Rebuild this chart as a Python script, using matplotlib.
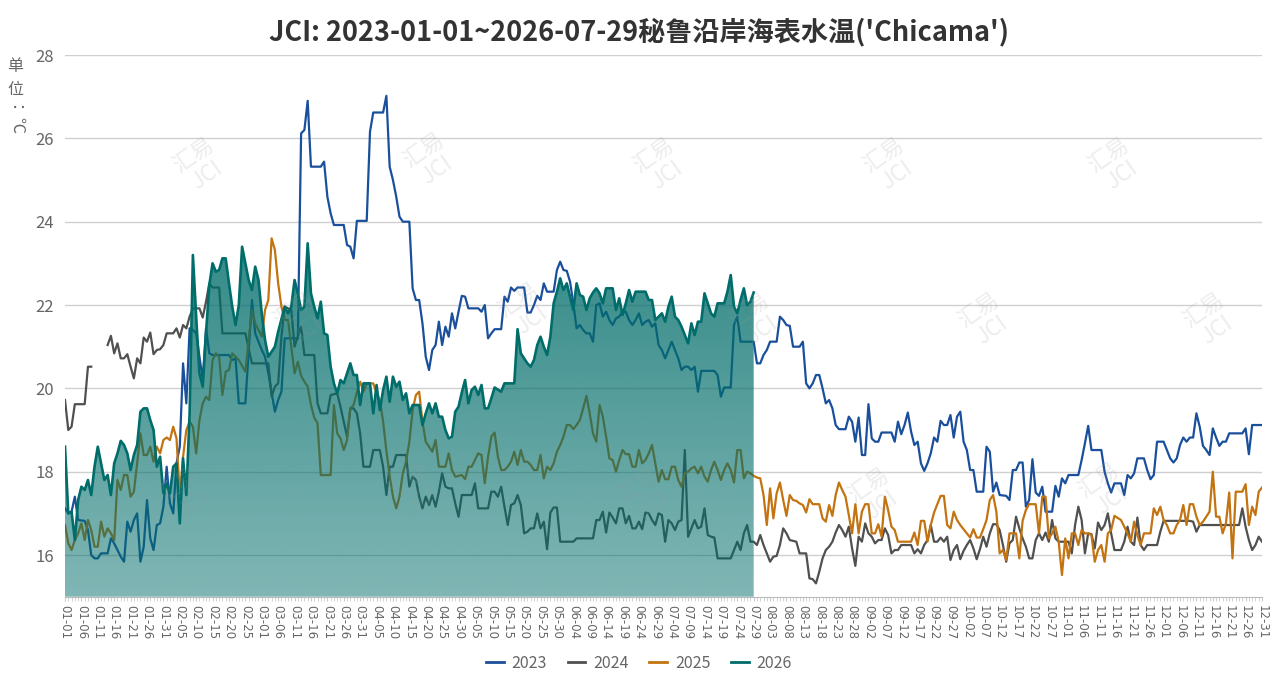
import matplotlib
matplotlib.use("Agg")
import matplotlib.pyplot as plt
import numpy as np
import pandas as pd
from matplotlib.colors import to_rgb
from matplotlib.lines import Line2D
from matplotlib.patches import Polygon
from matplotlib.ticker import MultipleLocator

plt.rcParams["font.family"] = ["Noto Sans CJK SC", "DejaVu Sans"]

TITLE = "JCI: 2023-01-01~2026-07-29秘鲁沿岸海表水温('Chicama')"
categories = pd.date_range("2024-01-01", "2024-12-31").strftime("%m-%d").tolist()

# (day index in categories, sea surface temperature ℃); None = missing
pts_2023 = [
    (0, 17.12), (1, 17.0), (2, 17.04), (3, 17.4), (4, 16.84), (6, 16.82), (7, 16.6), (8, 16.0),
    (9, 15.92), (10, 15.92), (11, 16.04), (13, 16.04), (14, 16.4), (15, 16.28), (16, 16.12),
    (17, 15.96), (18, 15.84), (19, 16.8), (20, 16.56), (21, 16.84), (22, 17.0), (23, 15.84),
    (24, 16.2), (25, 17.32), (26, 16.4), (27, 16.12), (28, 16.72), (29, 16.76), (30, 17.16),
    (31, 18.12), (32, 17.24), (33, 17.0), (34, 18.2), (35, 18.6), (36, 20.6), (37, 19.64),
    (38, 21.44), (39, 21.4), (40, 21.32), (41, 20.76), (42, 20.2), (43, 21.44), (44, 20.84),
    (45, 20.8), (50, 20.8), (51, 20.68), (52, 20.72), (53, 19.64), (55, 19.64), (57, 22.12),
    (58, 21.32), (60, 20.92), (61, 20.76), (62, 20.36), (64, 19.44), (65, 19.72), (66, 19.92),
    (67, 21.2), (71, 21.2), (72, 26.12), (73, 26.2), (74, 26.9), (75, 25.32), (78, 25.32),
    (79, 25.44), (80, 24.6), (81, 24.2), (82, 23.92), (85, 23.92), (86, 23.44), (87, 23.4),
    (88, 23.12), (89, 24.02), (92, 24.02), (93, 26.16), (94, 26.62), (97, 26.62), (98, 27.02),
    (99, 25.32), (100, 25.0), (101, 24.6), (102, 24.12), (103, 24.0), (105, 24.0), (106, 22.4),
    (107, 22.12), (108, 22.12), (109, 21.56), (110, 20.76), (111, 20.44), (112, 20.92),
    (113, 21.04), (114, 21.6), (115, 21.04), (116, 21.48), (117, 21.24), (118, 21.8),
    (119, 21.44), (120, 21.84), (121, 22.22), (122, 22.2), (123, 21.92), (126, 21.92),
    (127, 21.84), (128, 22.0), (129, 21.2), (130, 21.32), (131, 21.42), (133, 21.42),
    (134, 22.2), (135, 22.08), (136, 22.42), (137, 22.34), (138, 22.42), (140, 22.42),
    (141, 21.82), (142, 21.82), (143, 22.0), (144, 22.22), (145, 22.12), (146, 22.52),
    (147, 22.32), (149, 22.32), (150, 22.84), (151, 23.04), (152, 22.84), (153, 22.82),
    (154, 22.56), (155, 22.04), (156, 21.44), (157, 21.52), (158, 21.4), (159, 21.32),
    (160, 21.32), (161, 21.12), (162, 22.0), (163, 22.04), (164, 21.72), (165, 21.84),
    (166, 21.64), (167, 21.52), (168, 21.68), (169, 21.72), (170, 21.84), (171, 21.84),
    (172, 21.64), (173, 21.52), (174, 21.64), (175, 21.8), (176, 21.52), (177, 21.6),
    (178, 21.64), (179, 21.48), (180, 21.56), (181, 21.04), (182, 20.92), (183, 20.72),
    (184, 20.92), (185, 21.12), (186, 20.92), (187, 20.72), (188, 20.44), (189, 20.52),
    (190, 20.52), (191, 20.44), (192, 20.52), (193, 19.92), (194, 20.42), (198, 20.42),
    (199, 20.32), (200, 19.8), (201, 20.02), (203, 20.02), (204, 21.52), (205, 21.72),
    (206, 21.12), (210, 21.12), (211, 20.6), (212, 20.6), (213, 20.8), (214, 20.92),
    (215, 21.12), (217, 21.12), (218, 21.72), (219, 21.64), (220, 21.52), (221, 21.5),
    (222, 21.0), (224, 21.0), (225, 21.12), (226, 20.12), (227, 20.0), (228, 20.12),
    (229, 20.32), (230, 20.32), (231, 20.0), (232, 19.64), (233, 19.72), (234, 19.52),
    (235, 19.12), (236, 19.02), (238, 19.02), (239, 19.32), (240, 19.2), (241, 18.72),
    (242, 19.3), (243, 18.4), (244, 18.4), (245, 19.62), (246, 18.8), (247, 18.72),
    (248, 18.72), (249, 18.94), (252, 18.94), (253, 18.72), (254, 19.2), (255, 18.9),
    (256, 19.12), (257, 19.42), (258, 18.96), (259, 18.64), (260, 18.72), (261, 18.2),
    (262, 18.02), (263, 18.2), (264, 18.44), (265, 18.82), (266, 18.72), (267, 19.22),
    (268, 19.12), (269, 19.12), (270, 19.36), (271, 18.82), (272, 19.32), (273, 19.44),
    (274, 18.72), (275, 18.52), (276, 18.04), (277, 18.04), (278, 17.52), (280, 17.52),
    (281, 18.6), (282, 18.48), (283, 17.52), (284, 17.74), (285, 17.44), (287, 17.42),
    (288, 17.32), (289, 18.04), (290, 18.04), (291, 18.22), (292, 18.22), (293, 17.16),
    (294, 17.32), (295, 18.3), (296, 17.5), (297, 17.42), (298, 17.64), (299, 17.04),
    (301, 17.04), (302, 17.66), (303, 17.4), (304, 17.84), (305, 17.72), (306, 17.92),
    (309, 17.92), (310, 18.28), (311, 18.68), (312, 19.1), (313, 18.52), (316, 18.52),
    (317, 18.0), (318, 17.72), (319, 17.5), (320, 17.72), (322, 17.72), (323, 17.44),
    (324, 17.92), (325, 17.84), (326, 17.96), (327, 18.32), (329, 18.32), (330, 18.04),
    (331, 17.82), (332, 17.92), (333, 18.72), (335, 18.72), (336, 18.52), (337, 18.32),
    (338, 18.22), (339, 18.32), (340, 18.64), (341, 18.82), (342, 18.72), (343, 18.82),
    (344, 18.82), (345, 19.4), (346, 19.08), (347, 18.62), (348, 18.52), (349, 18.4),
    (350, 19.04), (351, 18.82), (352, 18.62), (353, 18.72), (354, 18.72), (355, 18.92),
    (359, 18.92), (360, 19.04), (361, 18.42), (362, 19.12), (365, 19.12),
]

pts_2024 = [
    (0, 19.72), (1, 19.0), (2, 19.08), (3, 19.62), (6, 19.62), (7, 20.52), (8, 20.52), (10, None),
    (13, 21.04), (14, 21.26), (15, 20.84), (16, 21.08), (17, 20.72), (18, 20.72), (19, 20.82),
    (20, 20.52), (21, 20.24), (22, 20.72), (23, 20.6), (24, 21.22), (25, 21.12), (26, 21.34),
    (27, 20.82), (28, 20.92), (29, 20.94), (30, 21.04), (31, 21.32), (33, 21.32), (34, 21.44),
    (35, 21.22), (36, 21.52), (37, 21.44), (38, 21.72), (39, 21.92), (41, 21.92), (42, 21.7),
    (43, 22.08), (44, 22.52), (45, 22.42), (47, 22.42), (48, 21.32), (55, 21.32), (57, 20.6),
    (58, 20.6), (62, 20.6), (63, 19.8), (64, 20.04), (65, 20.12), (66, 21.24), (67, 21.96),
    (69, 21.88), (70, 21.0), (72, 21.48), (73, 20.8), (76, 20.8), (77, 19.64), (78, 19.4),
    (80, 19.4), (81, 19.84), (83, 19.88), (84, 19.56), (86, 18.84), (87, 19.52), (88, 19.52),
    (89, 19.4), (90, 18.92), (91, 18.12), (93, 18.12), (94, 18.52), (96, 18.52), (97, 18.12),
    (98, 17.44), (99, 18.12), (100, 18.12), (101, 18.4), (104, 18.4), (105, 17.64),
    (106, 17.88), (107, 17.8), (108, 17.4), (109, 17.12), (110, 17.4), (111, 17.2),
    (112, 17.44), (113, 17.16), (114, 17.52), (115, 17.96), (116, 17.64), (117, 17.6),
    (118, 17.6), (119, 17.24), (120, 16.92), (121, 17.44), (124, 17.44), (125, 17.72),
    (126, 17.12), (129, 17.12), (130, 17.52), (131, 17.52), (132, 17.4), (133, 17.64),
    (134, 17.16), (135, 16.72), (136, 17.2), (137, 17.24), (138, 17.44), (139, 17.2),
    (140, 16.52), (141, 16.56), (142, 16.64), (143, 16.64), (144, 17.0), (145, 16.64),
    (146, 16.8), (147, 16.14), (148, 17.02), (149, 17.14), (150, 17.14), (151, 16.32),
    (155, 16.32), (156, 16.4), (161, 16.4), (162, 16.84), (163, 16.84), (164, 17.04),
    (165, 16.54), (166, 17.02), (167, 16.9), (168, 16.76), (169, 17.12), (170, 17.12),
    (171, 16.76), (172, 16.94), (173, 16.64), (174, 16.64), (175, 16.8), (176, 16.62),
    (177, 17.02), (178, 17.0), (179, 16.84), (180, 16.72), (181, 17.0), (182, 16.96),
    (183, 16.32), (184, 16.84), (185, 16.76), (186, 16.6), (187, 16.8), (188, 16.84),
    (189, 18.52), (190, 16.44), (191, 16.64), (192, 16.84), (193, 16.64), (194, 16.68),
    (195, 17.12), (196, 16.48), (197, 16.44), (198, 16.42), (199, 15.92), (203, 15.92),
    (204, 16.12), (205, 16.32), (206, 16.12), (207, 16.52), (208, 16.72), (209, 16.32),
    (210, 16.32), (211, 16.24), (212, 16.48), (213, 16.24), (214, 16.04), (215, 15.84),
    (216, 15.96), (217, 15.98), (218, 16.24), (219, 16.64), (220, 16.52), (221, 16.36),
    (223, 16.32), (224, 16.04), (226, 16.04), (227, 15.44), (228, 15.42), (229, 15.32),
    (230, 15.6), (231, 15.92), (232, 16.12), (233, 16.2), (234, 16.32), (235, 16.54),
    (236, 16.72), (237, 16.6), (238, 16.44), (239, 16.68), (240, 16.16), (241, 15.74),
    (242, 16.44), (243, 16.32), (244, 16.76), (245, 16.52), (246, 16.44), (247, 16.28),
    (248, 16.36), (249, 16.36), (250, 16.64), (251, 16.48), (252, 16.04), (253, 16.12),
    (254, 16.12), (255, 16.24), (258, 16.24), (259, 16.04), (260, 16.14), (261, 16.04),
    (262, 16.24), (263, 16.36), (264, 16.72), (265, 16.32), (266, 16.32), (267, 16.42),
    (268, 16.32), (269, 16.44), (270, 15.88), (271, 16.12), (272, 16.24), (273, 15.9),
    (274, 16.1), (275, 16.24), (276, 16.36), (277, 16.16), (278, 15.9), (279, 16.14),
    (280, 16.44), (281, 16.2), (282, 16.52), (283, 16.74), (284, 16.74), (285, 16.6),
    (286, 16.24), (287, 15.84), (288, 16.28), (289, 16.36), (290, 16.92), (291, 16.64),
    (292, 16.4), (293, 16.2), (294, 15.92), (295, 15.92), (296, 16.36), (297, 16.52),
    (298, 16.36), (299, 16.54), (300, 16.32), (301, 16.84), (302, 16.4), (303, 16.32),
    (306, 16.32), (307, 16.04), (308, 16.72), (309, 17.16), (310, 16.84), (311, 16.04),
    (312, 16.52), (313, 16.5), (314, 16.16), (315, 16.78), (316, 16.6), (317, 16.72),
    (318, 17.0), (319, 16.52), (320, 16.12), (322, 16.12), (323, 16.32), (324, 16.68),
    (325, 16.32), (326, 16.24), (327, 16.9), (328, 16.24), (329, 16.12), (330, 16.24),
    (333, 16.24), (334, 16.56), (335, 16.82), (343, 16.82), (344, 16.8), (345, 16.56),
    (346, 16.72), (358, 16.72), (359, 17.12), (360, 16.68), (361, 16.36), (362, 16.12),
    (363, 16.24), (364, 16.44), (365, 16.32),
]

pts_2025 = [
    (0, 16.72), (1, 16.28), (2, 16.12), (3, 16.36), (4, 16.52), (5, 16.76), (6, 16.36), (7, 16.84),
    (8, 16.6), (9, 16.2), (10, 16.2), (11, 16.8), (12, 16.44), (13, 16.64), (14, 16.52),
    (15, 16.36), (16, 17.8), (17, 17.56), (18, 17.92), (19, 17.92), (20, 17.4), (21, 17.52),
    (22, 18.2), (23, 18.92), (24, 18.4), (25, 18.4), (26, 18.6), (27, 18.24), (28, 18.6),
    (29, 18.44), (30, 18.76), (31, 18.82), (32, 18.76), (33, 19.08), (34, 18.8), (35, 17.44),
    (36, 18.36), (37, 19.0), (38, 19.2), (39, 19.08), (40, 18.44), (41, 19.24), (42, 19.64),
    (43, 19.8), (44, 19.72), (45, 20.68), (46, 20.84), (47, 20.76), (48, 19.84), (49, 20.4),
    (50, 20.44), (51, 20.84), (52, 20.76), (53, 20.68), (55, 20.4), (56, 21.16), (57, 21.88),
    (58, 21.56), (59, 21.4), (60, 21.24), (61, 21.88), (62, 22.12), (63, 23.6), (64, 23.32),
    (65, 22.52), (66, 21.96), (67, 21.64), (68, 21.64), (70, 20.36), (71, 20.64), (72, 20.3),
    (73, 20.16), (74, 20.04), (75, 19.6), (76, 19.3), (77, 19.16), (78, 17.92), (81, 17.92),
    (82, 19.6), (83, 18.92), (84, 18.8), (85, 18.52), (86, 18.76), (87, 19.52), (88, 19.6),
    (89, 19.9), (90, 20.16), (91, 19.92), (92, 20.12), (94, 20.12), (95, 19.88), (96, 19.72),
    (97, 19.2), (98, 18.5), (99, 17.9), (100, 17.4), (101, 17.12), (102, 17.4), (103, 17.96),
    (104, 18.24), (105, 18.72), (106, 19.48), (107, 19.84), (108, 19.92), (109, 19.2),
    (110, 18.72), (111, 18.6), (112, 18.48), (113, 18.76), (114, 18.12), (116, 18.12),
    (117, 18.44), (118, 18.04), (119, 17.88), (121, 17.92), (122, 17.82), (123, 18.12),
    (124, 18.12), (125, 18.28), (126, 18.44), (127, 18.4), (128, 17.72), (129, 18.36),
    (130, 18.84), (131, 18.94), (132, 18.36), (133, 18.04), (134, 18.04), (135, 18.12),
    (136, 18.24), (137, 18.48), (138, 18.16), (139, 18.52), (140, 18.24), (141, 18.24),
    (142, 18.16), (143, 18.04), (144, 18.04), (145, 18.4), (146, 17.84), (147, 18.12),
    (148, 18.04), (149, 18.2), (150, 18.48), (151, 18.64), (152, 18.84), (153, 19.12),
    (154, 19.12), (155, 19.02), (156, 19.12), (157, 19.24), (158, 19.52), (159, 19.82),
    (160, 19.4), (161, 18.92), (162, 18.72), (163, 19.6), (164, 19.32), (165, 18.84),
    (166, 18.32), (167, 18.28), (168, 18.0), (169, 18.28), (170, 18.52), (171, 18.42),
    (172, 18.42), (173, 18.12), (174, 18.12), (175, 18.52), (176, 18.2), (177, 18.28),
    (178, 18.44), (179, 18.64), (180, 18.2), (181, 17.76), (182, 18.04), (183, 17.82),
    (184, 17.82), (185, 18.12), (186, 18.12), (187, 17.8), (188, 17.64), (189, 17.96),
    (190, 18.0), (191, 18.08), (192, 18.12), (193, 17.96), (194, 18.12), (195, 17.88),
    (196, 17.76), (197, 18.04), (198, 18.24), (199, 18.04), (200, 17.8), (201, 18.04),
    (202, 18.2), (203, 18.04), (204, 17.74), (205, 18.52), (206, 18.52), (207, 17.84),
    (208, 18.0), (209, 17.96), (210, 17.9), (211, 17.86), (212, 17.84), (213, 17.44),
    (214, 16.72), (215, 17.6), (216, 16.88), (217, 17.48), (218, 17.74), (219, 17.32),
    (220, 16.94), (221, 17.44), (222, 17.32), (223, 17.3), (224, 17.24), (225, 17.2),
    (226, 17.02), (227, 17.34), (228, 17.22), (230, 17.22), (231, 16.88), (232, 16.8),
    (233, 17.2), (234, 16.94), (235, 17.44), (236, 17.74), (237, 17.56), (238, 17.4),
    (240, 16.52), (241, 17.22), (242, 16.52), (243, 17.04), (244, 17.22), (245, 17.22),
    (246, 16.52), (247, 16.52), (248, 16.74), (249, 16.44), (250, 17.4), (251, 17.08),
    (252, 16.68), (253, 16.6), (254, 16.32), (258, 16.32), (259, 16.54), (260, 16.24),
    (261, 16.82), (262, 16.82), (263, 16.32), (264, 16.72), (265, 17.02), (266, 17.22),
    (267, 17.42), (268, 17.42), (269, 16.72), (270, 16.64), (271, 17.04), (272, 16.84),
    (273, 16.72), (274, 16.62), (275, 16.52), (276, 16.42), (277, 16.62), (278, 16.42),
    (279, 16.42), (280, 16.62), (281, 16.84), (282, 17.32), (283, 17.44), (284, 17.04),
    (285, 16.04), (286, 16.12), (287, 15.88), (288, 16.52), (290, 16.52), (291, 15.92),
    (292, 16.82), (293, 17.08), (294, 17.22), (296, 17.22), (297, 16.52), (298, 17.4),
    (299, 17.4), (300, 16.4), (301, 16.52), (302, 16.68), (303, 16.32), (304, 15.52),
    (305, 16.4), (306, 15.92), (307, 16.52), (308, 16.52), (309, 16.24), (310, 16.6),
    (311, 16.52), (312, 16.52), (313, 16.48), (314, 15.84), (315, 16.12), (316, 16.24),
    (317, 15.84), (318, 16.52), (319, 16.6), (320, 16.94), (322, 16.84), (323, 16.68),
    (324, 16.52), (325, 16.32), (326, 16.8), (327, 16.48), (328, 16.24), (329, 16.52),
    (331, 16.52), (332, 17.12), (333, 16.96), (334, 17.16), (335, 16.84), (336, 16.72),
    (337, 16.52), (338, 16.52), (339, 16.72), (340, 16.84), (341, 17.2), (342, 16.72),
    (343, 17.22), (344, 17.22), (345, 16.92), (346, 16.72), (347, 16.8), (348, 16.92),
    (349, 17.04), (350, 18.0), (351, 16.92), (352, 16.92), (353, 16.52), (354, 16.76),
    (355, 17.5), (356, 15.92), (357, 17.52), (359, 17.52), (360, 17.7), (361, 16.72),
    (362, 17.16), (363, 16.96), (364, 17.52), (365, 17.62),
]

pts_2026 = [
    (0, 18.6), (1, 17.0), (2, 17.04), (3, 16.36), (4, 17.32), (5, 17.64), (6, 17.56), (7, 17.8),
    (8, 17.44), (9, 18.12), (10, 18.6), (11, 18.2), (12, 17.8), (13, 17.92), (14, 17.44),
    (15, 18.2), (16, 18.44), (17, 18.74), (18, 18.64), (19, 18.44), (20, 18.04), (21, 18.4),
    (22, 18.64), (23, 19.44), (24, 19.52), (25, 19.52), (26, 19.24), (27, 19.0), (28, 18.12),
    (29, 18.36), (30, 17.48), (31, 17.72), (32, 17.48), (33, 18.12), (34, 18.2), (35, 16.76),
    (36, 18.32), (37, 17.44), (38, 19.4), (39, 23.2), (40, 21.72), (41, 20.36), (42, 20.04),
    (43, 21.32), (44, 22.48), (45, 23.0), (46, 22.8), (47, 22.84), (48, 23.12), (49, 23.12),
    (50, 22.52), (51, 21.96), (52, 21.52), (53, 22.0), (54, 23.4), (55, 23.0), (56, 22.6),
    (57, 22.36), (58, 22.92), (59, 22.6), (60, 21.8), (61, 21.16), (62, 20.76), (64, 21.0),
    (65, 21.36), (67, 21.96), (68, 21.8), (69, 21.96), (70, 22.6), (71, 22.28), (72, 21.88),
    (73, 21.96), (74, 23.48), (75, 22.28), (76, 21.96), (77, 21.68), (78, 22.08), (79, 21.32),
    (80, 21.28), (81, 20.52), (82, 20.12), (83, 19.88), (84, 20.2), (85, 20.12), (86, 20.36),
    (87, 20.6), (88, 20.32), (89, 20.32), (90, 19.6), (91, 20.12), (93, 20.12), (94, 19.4),
    (95, 20.08), (96, 19.48), (97, 19.96), (98, 20.28), (99, 19.68), (100, 20.28), (101, 20.04),
    (102, 20.16), (103, 19.72), (104, 19.88), (105, 19.4), (106, 19.6), (108, 19.6),
    (109, 19.12), (110, 19.4), (111, 19.64), (112, 19.4), (113, 19.64), (114, 19.32),
    (115, 19.32), (116, 19.0), (117, 18.8), (118, 18.84), (119, 19.44), (120, 19.56),
    (121, 19.9), (122, 20.2), (123, 19.64), (124, 19.96), (125, 20.04), (126, 19.84),
    (127, 20.08), (128, 19.52), (129, 19.52), (130, 19.76), (131, 20.02), (133, 19.92),
    (134, 20.12), (137, 20.12), (138, 21.42), (139, 20.84), (140, 20.72), (141, 20.6),
    (142, 20.52), (143, 20.68), (144, 21.04), (145, 21.24), (146, 21.0), (147, 20.8),
    (148, 21.24), (149, 22.04), (150, 22.32), (151, 22.64), (152, 22.36), (153, 22.52),
    (154, 22.2), (155, 21.88), (156, 22.52), (157, 22.24), (158, 22.2), (159, 21.88),
    (160, 22.16), (161, 22.3), (162, 22.4), (163, 22.28), (164, 22.04), (165, 22.4),
    (167, 22.4), (168, 21.88), (169, 22.16), (170, 21.76), (171, 22.04), (172, 22.36),
    (173, 22.08), (174, 22.32), (177, 22.32), (178, 22.12), (179, 22.12), (180, 21.64),
    (181, 21.72), (182, 21.8), (183, 21.6), (184, 21.96), (185, 22.2), (186, 21.72),
    (187, 21.64), (188, 21.48), (189, 21.28), (190, 21.08), (191, 21.56), (192, 21.28),
    (193, 21.6), (194, 21.6), (195, 22.28), (196, 22.04), (197, 21.8), (198, 21.72),
    (199, 22.04), (201, 22.04), (202, 22.32), (203, 22.72), (204, 21.96), (205, 21.8),
    (206, 22.12), (207, 22.4), (208, 22.0), (209, 22.08), (210, 22.3),
]

series = ["2023", "2024", "2025", "2026"]
colors = ["#1a4f9c", "#505050", "#c3730f", "#006d6a"]


def unzip(pts):
    x = np.array([p[0] for p in pts], dtype=float)
    y = np.array([np.nan if p[1] is None else p[1] for p in pts], dtype=float)
    return x, y


fig = plt.figure(figsize=(12.78, 6.89), dpi=100)
ax = fig.add_axes([65 / 1278, 1 - 596.7 / 689, (1262 - 65) / 1278, (596.7 - 55) / 689])

for pts, col in zip([pts_2023, pts_2024, pts_2025], colors[:3]):
    x, y = unzip(pts)
    ax.plot(x, y, color=col, lw=1.6, zorder=2, solid_joinstyle="round")

# 2026: gradient-filled area drawn over the other years
x26, y26 = unzip(pts_2026)
verts = [(x26[0], 15)] + list(zip(x26, y26)) + [(x26[-1], 15)]
poly = Polygon(verts, closed=True, facecolor="none", edgecolor="none")
ax.add_patch(poly)
grad = np.zeros((256, 1, 4))
grad[:, 0, :3] = to_rgb(colors[3])
grad[:, 0, 3] = np.linspace(0.5, 0.8, 256)
im = ax.imshow(grad, extent=[x26[0], x26[-1], 15, y26.max()], origin="lower",
               aspect="auto", zorder=3, interpolation="bilinear")
im.set_clip_path(poly)
ax.plot(x26, y26, color=colors[3], lw=1.9, zorder=4, solid_joinstyle="round")

ax.set_xlim(0, len(categories) - 1)
ax.set_ylim(15, 28)
ax.set_yticks(np.arange(16, 29, 2))
ax.grid(axis="y", color="#d0d0d0", lw=1.0)
ax.set_axisbelow(True)
for s in ["top", "right", "left"]:
    ax.spines[s].set_visible(False)
ax.spines["bottom"].set_color("#bbbbbb")

ax.xaxis.set_minor_locator(MultipleLocator(1))
ax.set_xticks(range(0, len(categories), 5))
ax.set_xticklabels(categories[::5], rotation=270, fontsize=8.5, color="#666666",
                   family=["DejaVu Sans"])
ax.tick_params(axis="x", which="both", length=3, color="#cccccc", pad=3)
ax.tick_params(axis="y", length=0, labelsize=12, labelcolor="#666666", pad=8)

fig.text(0.5, 1 - 32 / 689, TITLE, ha="center", va="center", fontsize=19.5,
         fontweight="bold", color="#333333")
fig.text(15 / 1278, 1 - 78 / 689, "单\n位", ha="center", va="center", fontsize=11.5,
         color="#666666", linespacing=1.4)
fig.text(15 / 1278, 1 - 120 / 689, "：℃", ha="center", va="center", fontsize=11.5,
         color="#666666", rotation=270)

# faint watermarks
for px, py in [(200, 165), (430, 160), (660, 165), (890, 165), (1115, 165),
               (300, 320), (525, 310), (755, 320), (985, 320), (1210, 320),
               (185, 495), (415, 490), (645, 495), (875, 495), (1105, 490)]:
    fig.text(px / 1278, 1 - py / 689, "汇易\nJCI", ha="center", va="center", fontsize=16,
             color="#999999", alpha=0.18, rotation=35, linespacing=1.1, zorder=0)

handles = [Line2D([], [], color=c, lw=2) for c in colors]
fig.legend(handles, series, loc="center", bbox_to_anchor=(0.5, 1 - 663 / 689), ncol=4,
           frameon=False, fontsize=11.5, handlelength=1.1, handletextpad=0.5,
           columnspacing=1.3, labelcolor="#666666")

fig.savefig("out.png", dpi=100)
